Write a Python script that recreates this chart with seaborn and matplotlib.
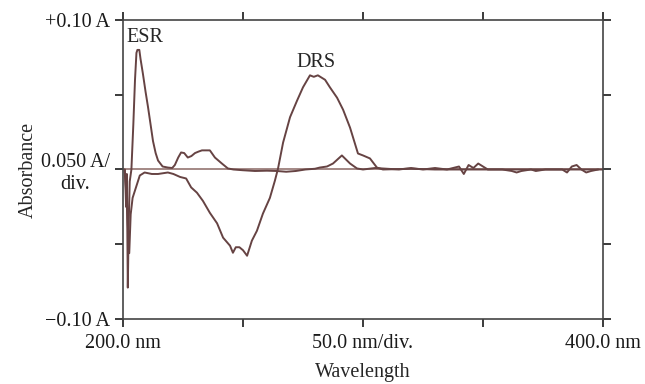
import matplotlib
matplotlib.use('Agg')
import matplotlib.pyplot as plt
import seaborn as sns
import pandas as pd

# ESR spectrum (wavelength nm, absorbance A)
esr_nm = [200.8, 201.3, 201.6, 202.0, 202.4, 202.8, 203.5, 204.3, 205.0, 205.6,
          206.0, 206.8, 207.3, 208.3, 209.4, 210.4, 211.5, 212.5, 213.6, 214.6,
          216.5, 218.7, 220.5, 221.6, 223.0, 224.2, 225.5, 227.0, 228.5, 230.0,
          231.5, 232.9, 236.2, 238.3, 241.2, 243.7, 246.0, 250.0, 255.0, 260.0,
          264.0, 268.0, 272.0, 276.0, 280.0, 282.0, 285.0, 287.5, 291.2, 294.6,
          297.5, 300.0, 305.0, 310.0, 315.0, 320.0, 325.0, 330.0, 335.0, 340.0,
          342.0, 344.0, 346.0, 348.0, 350.0, 352.0, 358.0, 362.0, 364.0, 366.0,
          370.0, 372.0, 376.0, 383.0, 385.0, 387.0, 389.0, 391.0, 393.0, 395.0,
          398.0]
esr_abs = [0.0, -0.025, -0.003, -0.079, -0.035, -0.008, 0.0, 0.030, 0.060, 0.078,
           0.080, 0.080, 0.074, 0.064, 0.052, 0.042, 0.030, 0.019, 0.011, 0.006,
           0.002, 0.0013, 0.001, 0.003, 0.008, 0.0114, 0.011, 0.008, 0.009, 0.011,
           0.012, 0.0128, 0.0128, 0.008, 0.004, 0.0007, 0.0, -0.0005, -0.001, -0.0008,
           -0.001, -0.0015, -0.001, 0.0, 0.0005, 0.0013, 0.002, 0.004, 0.0094, 0.004,
           0.0007, 0.0, 0.001, 0.0005, 0.0, 0.001, 0.0, 0.001, 0.0, 0.002,
           -0.003, 0.003, 0.001, 0.004, 0.002, 0.0, 0.0, -0.001, -0.002, -0.001,
           0.0, -0.001, 0.0, 0.0, -0.002, 0.002, 0.003, 0.0, -0.002, -0.001,
           0.0]

# DRS spectrum
drs_nm = [200.6, 201.2, 202.6, 203.2, 204.0, 205.4, 207.0, 209.0, 212.0, 214.6,
          218.7, 221.0, 223.8, 226.3, 228.4, 230.8, 233.3, 236.2, 239.2, 241.7,
          244.6, 245.8, 247.0, 248.5, 250.0, 251.7, 253.7, 255.8, 258.3, 261.2,
          263.3, 264.6, 266.7, 269.6, 272.5, 275.0, 277.9, 279.5, 281.2, 284.2,
          286.2, 289.2, 291.7, 294.6, 296.7, 297.9, 300.0, 302.9, 305.8, 308.3,
          320.0, 330.0, 340.0, 400.0]
drs_abs = [0.0, -0.012, -0.056, -0.030, -0.019, -0.012, -0.004, -0.002, -0.003, -0.003,
           -0.002, -0.003, -0.005, -0.006, -0.012, -0.0155, -0.021, -0.029, -0.036, -0.0456,
           -0.051, -0.0557, -0.052, -0.052, -0.054, -0.0577, -0.0476, -0.041, -0.0295, -0.019,
           -0.0074, 0.0007, 0.018, 0.035, 0.046, 0.055, 0.063, 0.062, 0.063, 0.060,
           0.055, 0.048, 0.040, 0.028, 0.017, 0.0107, 0.0094, 0.0074, 0.0013, 0.0,
           0.0005, 0.0, 0.0, 0.0]

y_ticks = [-0.10, -0.05, 0.0, 0.05, 0.10]
y_labels = ['\u22120.10 A', '', '0.050 A/\ndiv.', '', '+0.10 A']
x_ticks = [200, 250, 300, 350, 400]
x_labels = ['200.0 nm', '', '50.0 nm/div.', '', '400.0 nm']

sns.set_theme(style='ticks')
plt.rcParams['font.family'] = ['Liberation Serif', 'DejaVu Serif']

line_color = '#664343'
fs = 14.5

fig, ax = plt.subplots(figsize=(6.45, 3.84), dpi=100)
fig.subplots_adjust(left=0.1907, right=0.9349, top=0.9479, bottom=0.1693)

ax.axhline(0, color='#8a6864', lw=1.1, zorder=1)

esr = pd.DataFrame({'nm': esr_nm, 'A': esr_abs})
drs = pd.DataFrame({'nm': drs_nm, 'A': drs_abs})
sns.lineplot(data=esr, x='nm', y='A', ax=ax, color=line_color, lw=1.4,
             sort=False, estimator=None)
sns.lineplot(data=drs, x='nm', y='A', ax=ax, color=line_color, lw=1.4,
             sort=False, estimator=None)

ax.text(209.2, 0.088, 'ESR', fontsize=fs, ha='center', va='center')
ax.text(280.4, 0.0718, 'DRS', fontsize=fs, ha='center', va='center')

ax.set_xlim(200, 400)
ax.set_ylim(-0.10, 0.10)
ax.set_xticks(x_ticks, labels=x_labels)
ax.set_yticks(y_ticks, labels=y_labels)
for lbl in ax.get_yticklabels():
    lbl.set_multialignment('center')

ax.tick_params(axis='both', direction='out', length=6, width=1.2,
               labelsize=fs, top=True, right=True, colors='#1a1a1a')
ax.tick_params(axis='x', pad=5)
for sp in ax.spines.values():
    sp.set_visible(True)
    sp.set_color('#444444')
    sp.set_linewidth(1.2)

ax.set_xlabel('Wavelength', fontsize=fs, labelpad=7)
ax.set_ylabel('Absorbance', fontsize=fs, labelpad=2)

fig.savefig('out.png', dpi=100)
